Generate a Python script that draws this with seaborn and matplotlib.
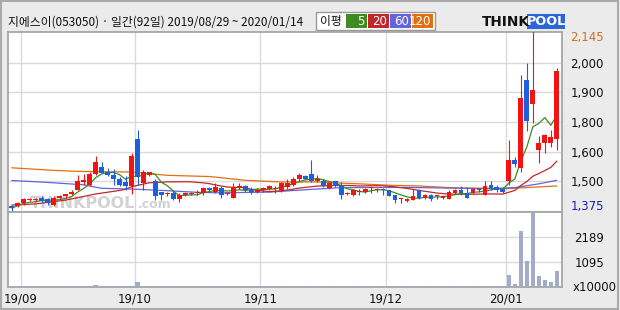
import numpy as np
import pandas as pd
import matplotlib
matplotlib.use("Agg")
import matplotlib.pyplot as plt
import seaborn as sns
from matplotlib.patches import Rectangle

sns.set_style("white")
plt.rcParams['font.family'] = ['Noto Sans CJK KR', 'DejaVu Sans']

# ---------------- data ----------------
title_text = "지에스이(053050) · 일간(92일) 2019/08/29 ~ 2020/01/14"
legend_head = "이평"
ma_names = ["5", "20", "60", "120"]
month_labels = ["19/09", "19/10", "19/11", "19/12", "20/01"]
month_pos = [1.5, 20.5, 41.5, 62.5, 82.5]

opens = [1395, 1395, 1405, 1420, 1420, 1430, 1425, 1400, 1430, 1435,
         1445, 1460, 1495, 1485, 1530, 1560, 1540, 1525, 1510, 1495,
         1480, 1680, 1490, 1525, 1500, 1455, 1445, 1450, 1425, 1440,
         1445, 1450, 1450, 1470, 1455, 1470, 1445, 1430, 1470, 1480,
         1465, 1455, 1460, 1465, 1465, 1460, 1475, 1485, 1510, 1520,
         1530, 1500, 1500, 1470, 1500, 1485, 1445, 1440, 1455, 1455,
         1470, 1460, 1465, 1460, 1440, 1425, 1415, 1420, 1460, 1430,
         1440, 1435, 1430, 1425, 1450, 1460, 1450, 1450, 1460, 1440,
         1485, 1475, 1465, 1500, 1590, 1555, 1930, 1825, 1630, 1660,
         1660, 1680]
highs = [1400, 1410, 1430, 1430, 1430, 1435, 1430, 1435, 1440, 1445,
         1460, 1525, 1530, 1540, 1605, 1580, 1555, 1550, 1515, 1520,
         1620, 1715, 1545, 1540, 1510, 1455, 1455, 1460, 1450, 1455,
         1455, 1460, 1475, 1475, 1490, 1480, 1455, 1490, 1490, 1485,
         1475, 1470, 1475, 1485, 1480, 1495, 1510, 1515, 1535, 1525,
         1590, 1525, 1510, 1495, 1500, 1495, 1455, 1465, 1465, 1470,
         1475, 1470, 1470, 1460, 1440, 1430, 1430, 1465, 1465, 1445,
         1445, 1440, 1440, 1460, 1465, 1480, 1475, 1470, 1470, 1500,
         1500, 1485, 1470, 1675, 1600, 1950, 2000, 2145, 1690, 1700,
         1715, 1980]
lows = [1375, 1390, 1400, 1415, 1415, 1410, 1400, 1395, 1425, 1430,
        1440, 1460, 1485, 1480, 1525, 1535, 1520, 1485, 1480, 1460,
        1445, 1485, 1460, 1520, 1420, 1420, 1435, 1420, 1410, 1435,
        1440, 1440, 1440, 1455, 1450, 1430, 1440, 1430, 1465, 1455,
        1445, 1450, 1455, 1460, 1450, 1455, 1465, 1480, 1500, 1505,
        1495, 1495, 1475, 1465, 1475, 1425, 1440, 1435, 1440, 1450,
        1450, 1455, 1440, 1435, 1405, 1405, 1410, 1420, 1425, 1425,
        1415, 1425, 1425, 1425, 1445, 1440, 1430, 1445, 1455, 1440,
        1460, 1455, 1450, 1485, 1560, 1540, 1710, 1745, 1575, 1620,
        1645, 1630]
closes = [1385, 1405, 1425, 1425, 1420, 1415, 1405, 1430, 1435, 1445,
          1455, 1500, 1505, 1530, 1580, 1535, 1525, 1510, 1485, 1480,
          1605, 1515, 1540, 1540, 1435, 1440, 1445, 1425, 1440, 1450,
          1445, 1450, 1470, 1460, 1475, 1440, 1445, 1475, 1480, 1460,
          1455, 1460, 1470, 1480, 1470, 1490, 1490, 1510, 1525, 1510,
          1500, 1510, 1480, 1490, 1480, 1440, 1445, 1460, 1455, 1465,
          1470, 1465, 1460, 1435, 1420, 1425, 1425, 1435, 1430, 1440,
          1425, 1435, 1435, 1455, 1460, 1450, 1430, 1465, 1465, 1480,
          1470, 1460, 1455, 1590, 1570, 1850, 1755, 1885, 1660, 1695,
          1685, 1965]
volumes = [45, 40, 50, 42, 45, 48, 40, 52, 45, 42,
           45, 55, 50, 55, 90, 50, 45, 48, 45, 50,
           50, 240, 55, 45, 50, 42, 40, 45, 40, 40,
           38, 40, 42, 40, 40, 42, 38, 45, 40, 40,
           38, 40, 40, 42, 40, 45, 42, 45, 48, 42,
           50, 42, 40, 40, 40, 45, 38, 40, 38, 40,
           38, 40, 40, 40, 42, 38, 40, 45, 40, 38,
           40, 38, 40, 42, 40, 40, 42, 40, 38, 50,
           45, 42, 40, 547, 148, 2470, 1170, 3250, 503, 325,
           251, 695]

ma20_head_idx = [0, 4, 9, 14, 18]
ma20_head_val = [1398, 1403, 1419, 1445, 1460]
ma60_idx = [0, 4, 6, 12, 15, 20, 26, 31, 35, 43, 46, 49, 51, 55, 66, 73, 80, 84, 88, 91]
ma60_val = [1502, 1497, 1494, 1484, 1469, 1466, 1459, 1452, 1450, 1453, 1458, 1463,
            1466, 1472, 1473, 1470, 1468, 1472, 1488, 1503]
ma120_idx = [0, 7, 11, 20, 26, 33, 39, 45, 51, 55, 59, 63, 68, 73, 78, 83, 88, 91]
ma120_val = [1556, 1545, 1541, 1538, 1524, 1519, 1503, 1496, 1496, 1491, 1487, 1482,
             1479, 1472, 1469, 1468, 1475, 1479]

price_ticks = [2000, 1875, 1750, 1625, 1500]
price_tick_labels = ["2,000", "1,900", "1,800", "1,600", "1,500"]
price_max_label = "2,145"
price_min_label = "1,375"
vol_ticks = [1095, 2189]
vol_tick_labels = ["1095", "2189"]
vol_unit = "x10000"

# ---------------- styling ----------------
W, H = 620, 310
BG = "#ebebeb"
FRAME = "#a6a6a6"
GRID = "#dadada"
UP = "#f01414"
DOWN = "#1e5fe0"
C_MA = ["#3d8c22", "#c0282a", "#6464dc", "#e07010"]


def fx(x):
    return x / W


def fy(y):
    return 1 - y / H


fig = plt.figure(figsize=(W / 100, H / 100), dpi=100, facecolor=BG)
ax = fig.add_axes([fx(8), fy(212), fx(562) - fx(8), fy(32) - fy(212)])
axv = fig.add_axes([fx(8), fy(287.3), fx(562) - fx(8), fy(212) - fy(287.3)], sharex=ax)
for a in (ax, axv):
    a.set_facecolor("white")
    for s in a.spines.values():
        s.set_color(FRAME)
        s.set_linewidth(1.3)

n = len(closes)
idx = np.arange(n)
o = np.array(opens, float)
c = np.array(closes, float)
h = np.array(highs, float)
l = np.array(lows, float)
up = c >= o
cols = np.where(up, UP, DOWN)

# grid
for a in (ax, axv):
    for p in month_pos:
        a.axvline(p, color=GRID, lw=1.0, zorder=0)
for t in price_ticks:
    ax.axhline(t, color=GRID, lw=1.0, zorder=0)
for t in vol_ticks:
    axv.axhline(t, color=GRID, lw=1.0, zorder=0)

# watermark
ax.text(3.0, 1372, "THINKPOOL", fontsize=11.5, fontweight="bold", color="#d2d2d2",
        family="DejaVu Sans", ha="left", va="bottom", zorder=0.5)
ax.text(21.0, 1372, ".com", fontsize=9, fontweight="bold", color="#d2d2d2",
        family="DejaVu Sans", ha="left", va="bottom", zorder=0.5)

# moving averages
ma5 = pd.Series(c).rolling(5, min_periods=1).mean()
ma20_tail = pd.Series(c).rolling(20).mean()
ma20_x = list(ma20_head_idx) + list(idx[19:])
ma20_y = list(ma20_head_val) + list(ma20_tail.values[19:])
line_sets = [
    (ma120_idx, ma120_val, C_MA[3]),
    (ma60_idx, ma60_val, C_MA[2]),
    (ma20_x, ma20_y, C_MA[1]),
    (idx, ma5.values, C_MA[0]),
]
for xs, ys, col in line_sets:
    sns.lineplot(x=np.asarray(xs, float), y=np.asarray(ys, float), ax=ax, color=col,
                 lw=0.9, estimator=None, sort=False, zorder=2)

# candles
px = (2131.3 - 1368.7) / 180.0
body_bottom = np.minimum(o, c)
body_h = np.maximum(np.abs(c - o), px)
ax.vlines(idx, l, h, colors=cols, lw=0.8, zorder=3)
ax.bar(idx, body_h, bottom=body_bottom, width=0.8, color=cols, linewidth=0, zorder=4)

ax.set_xlim(-0.62, 91.87)
ax.set_ylim(1368.7, 2131.3)
ax.set_yticks(price_ticks)
ax.set_yticklabels(price_tick_labels)
ax.yaxis.tick_right()
ax.tick_params(axis="y", length=0, pad=6, labelsize=8.5, labelcolor="#111111")
ax.tick_params(axis="x", length=0, labelbottom=False)
ax.set_xlabel("")
ax.set_ylabel("")
ax.text(1.015, 0.967, price_max_label, transform=ax.transAxes, color="#d0701a",
        fontsize=8.5, family="DejaVu Sans", ha="left", va="center")
ax.text(1.015, 0.028, price_min_label, transform=ax.transAxes, color="#1c1cb0",
        fontsize=8.5, family="DejaVu Sans", ha="left", va="center")

# volume
sns.barplot(x=idx, y=np.asarray(volumes, float), ax=axv, color="#a2abc8", saturation=1,
            width=0.75, native_scale=True, linewidth=0, zorder=3)
axv.set_xlim(-0.62, 91.87)
axv.set_ylim(0, 3290)
axv.set_yticks(vol_ticks)
axv.set_yticklabels(vol_tick_labels)
axv.yaxis.tick_right()
axv.tick_params(axis="y", length=0, pad=9, labelsize=8.5, labelcolor="#111111")
axv.set_xticks(month_pos)
axv.set_xticklabels(month_labels)
axv.tick_params(axis="x", length=0, pad=4, labelsize=8.5, labelcolor="#111111")
axv.set_xlabel("")
axv.set_ylabel("")
axv.text(1.02, 0.0, vol_unit, transform=axv.transAxes, fontsize=8.5, family="DejaVu Sans",
         color="#111111", ha="left", va="center")
for lab in ax.get_yticklabels() + axv.get_yticklabels() + axv.get_xticklabels():
    lab.set_family("DejaVu Sans")

# header title
fig.text(fx(8), fy(22), title_text, fontsize=8.5, color="#111111", ha="left", va="center")

# legend box
fig.patches.append(Rectangle((fx(316), fy(29.5)), fx(435) - fx(316), fy(12.5) - fy(29.5),
                             transform=fig.transFigure, facecolor="white",
                             edgecolor="#9a9a9a", lw=1.0))
fig.text(fx(320), fy(21.5), legend_head, fontsize=8.5, color="#111111", ha="left", va="center")
box_x = [346, 368, 390, 412]
for bx, name, col in zip(box_x, ma_names, C_MA):
    fig.patches.append(Rectangle((fx(bx), fy(28)), fx(20.5), fy(14) - fy(28),
                                 transform=fig.transFigure, facecolor=col, edgecolor="none"))
    fig.text(fx(bx + 19), fy(21.5), name, fontsize=8.5, color="white", ha="right",
             va="center", family="DejaVu Sans")

# logo
fig.text(fx(482), fy(21.5), "THINK", fontsize=9.8, fontweight="bold", color="#111111",
         family="DejaVu Sans", ha="left", va="center")
fig.patches.append(Rectangle((fx(527), fy(28.5)), fx(38), fy(14) - fy(28.5),
                             transform=fig.transFigure, facecolor="#2a66d8", edgecolor="none"))
fig.text(fx(546), fy(21.5), "POOL", fontsize=9.3, fontweight="bold", color="white",
         family="DejaVu Sans", ha="center", va="center")

# outer frame
fig.patches.append(Rectangle((fx(1), fy(308.5)), fx(616.5), fy(1) - fy(308.5),
                             transform=fig.transFigure, facecolor="none",
                             edgecolor="#aaaaaa", lw=1.5))

fig.savefig("out.png", dpi=100, facecolor=BG)
